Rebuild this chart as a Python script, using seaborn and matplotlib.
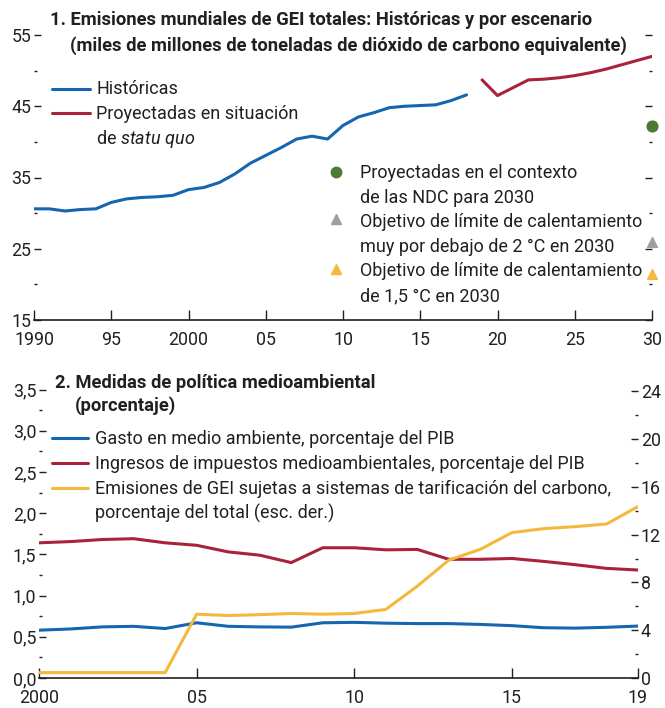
import numpy as np
import pandas as pd
import matplotlib
matplotlib.use('Agg')
import matplotlib.pyplot as plt
import seaborn as sns
from matplotlib.lines import Line2D
from matplotlib.ticker import FixedLocator

# Panel 1: emisiones mundiales de GEI (miles de millones de t CO2e)
anios_hist = list(range(1990, 2019))
emis_hist = [30.6, 30.6, 30.3, 30.5, 30.6, 31.5, 32.0, 32.2, 32.3, 32.5,
             33.3, 33.6, 34.3, 35.5, 37.0, 38.1, 39.2, 40.4, 40.8, 40.4,
             42.3, 43.5, 44.1, 44.8, 45.0, 45.1, 45.2, 45.8, 46.6]
anios_proy = list(range(2019, 2031))
emis_proy = [48.7, 46.5, 47.6, 48.7, 48.8, 49.0, 49.3, 49.7, 50.2, 50.8, 51.4, 52.0]
ndc_2030 = 42.2
obj_2c = 26.0
obj_15c = 21.5

# Panel 2: medidas de política medioambiental
anios2 = list(range(2000, 2020))
gasto = [0.58, 0.595, 0.62, 0.627, 0.60, 0.67, 0.627, 0.62, 0.617, 0.67,
         0.675, 0.665, 0.66, 0.66, 0.65, 0.635, 0.61, 0.605, 0.615, 0.63]
impuestos = [1.64, 1.655, 1.68, 1.69, 1.64, 1.61, 1.53, 1.49, 1.40, 1.58,
             1.58, 1.555, 1.56, 1.44, 1.44, 1.45, 1.415, 1.375, 1.33, 1.31]
tarif = [0.45, 0.45, 0.45, 0.45, 0.45, 5.34, 5.23, 5.30, 5.40, 5.34,
         5.40, 5.74, 7.69, 9.87, 10.77, 12.17, 12.50, 12.67, 12.89, 14.35]

AZUL = '#1565b0'
ROJO = '#a8233a'
AMAR = '#f4b93c'
VERDE = '#4b7a34'
GRIS = '#9e9e9e'
TXT = '#231f20'

sns.set_style('ticks')
plt.rcParams['font.family'] = ['Roboto', 'DejaVu Sans']
plt.rcParams['mathtext.fontset'] = 'custom'
plt.rcParams['mathtext.rm'] = 'Roboto'
plt.rcParams['mathtext.it'] = 'Roboto:italic'
plt.rcParams['text.color'] = TXT
plt.rcParams['axes.edgecolor'] = TXT
plt.rcParams['xtick.color'] = TXT
plt.rcParams['ytick.color'] = TXT

fs_tit = 13.2
fs_leg = 13.0
fst = 12.8
W, H = 665, 708
fig = plt.figure(figsize=(6.65, 7.08), dpi=100)
ax1 = fig.add_axes([34/W, 1-320/H, (652-34)/W, (320-35)/H])
ax2 = fig.add_axes([39/W, 1-678/H, (638-39)/W, (678-389.5)/H])


def px(x, y):
    return x / W, 1 - y / H


def texto(x, y, s, **kw):
    fig.text(*px(x, y), s, va='center', ha='left', **kw)


def linea_ley(x0, x1, y, color):
    (a, b), (c, _) = px(x0, y), px(x1, y)
    fig.add_artist(Line2D([a, c], [b, b], color=color, lw=2.2, transform=fig.transFigure))


def marca_ley(x, y, marker, color, ms):
    a, b = px(x, y)
    fig.add_artist(Line2D([a], [b], ls='', marker=marker, ms=ms, color=color,
                          transform=fig.transFigure))


def estilo(ax):
    for s in ['top', 'left', 'right']:
        ax.spines[s].set_visible(False)
    ax.spines['bottom'].set_linewidth(1.2)
    ax.tick_params(axis='x', direction='in', length=7, width=1, pad=8, labelsize=fst)
    ax.tick_params(axis='y', which='major', direction='in', length=5, width=1, pad=2, labelsize=fst)
    ax.tick_params(axis='y', which='minor', direction='in', length=2, width=1)
    ax.patch.set_alpha(0)


# ---- Panel 1 ----
df_h = pd.DataFrame({'anio': anios_hist, 'valor': emis_hist})
df_p = pd.DataFrame({'anio': anios_proy, 'valor': emis_proy})
sns.lineplot(data=df_h, x='anio', y='valor', ax=ax1, color=AZUL, lw=2.2)
sns.lineplot(data=df_p, x='anio', y='valor', ax=ax1, color=ROJO, lw=2.2)
ax1.scatter([2030], [ndc_2030], s=60, marker='o', color=VERDE, zorder=5, clip_on=False)
ax1.scatter([2030], [obj_2c], s=50, marker='^', color=GRIS, zorder=5, clip_on=False)
ax1.scatter([2030], [obj_15c], s=50, marker='^', color=AMAR, zorder=5, clip_on=False)
ax1.set_xlim(1990, 2030)
ax1.set_ylim(15, 55)
estilo(ax1)
ax1.set_xticks(range(1990, 2031, 5))
ax1.set_xticklabels(['1990', '95', '2000', '05', '10', '15', '20', '25', '30'])
ax1.set_yticks([15, 25, 35, 45, 55])
ax1.set_yticklabels(['15', '25', '35', '45', '55'])
ax1.yaxis.set_minor_locator(FixedLocator([20, 30, 40, 50]))
ax1.tick_params(axis='y', which='both', right=True, labelright=False)
ax1.set_xlabel('')
ax1.set_ylabel('')

texto(50, 20, '1. Emisiones mundiales de GEI totales: Históricas y por escenario',
      fontsize=fs_tit, fontweight='bold')
texto(70, 46, '(miles de millones de toneladas de dióxido de carbono equivalente)',
      fontsize=fs_tit, fontweight='bold')

# leyenda de lineas
linea_ley(52, 90, 89, AZUL)
texto(96, 89, 'Históricas', fontsize=fs_leg)
linea_ley(52, 90, 113, ROJO)
texto(96, 114, 'Proyectadas en situación', fontsize=fs_leg)
texto(96, 139, 'de $\\it{statu\\ quo}$', fontsize=fs_leg)

# leyenda de marcadores
marca_ley(336, 172, 'o', VERDE, 7.5)
texto(360, 173, 'Proyectadas en el contexto', fontsize=fs_leg)
texto(360, 198, 'de las NDC para 2030', fontsize=fs_leg)
marca_ley(336, 219, '^', GRIS, 7)
texto(360, 222, 'Objetivo de límite de calentamiento', fontsize=fs_leg)
texto(360, 247, 'muy por debajo de 2 °C en 2030', fontsize=fs_leg)
marca_ley(336, 269, '^', AMAR, 7)
texto(360, 271, 'Objetivo de límite de calentamiento', fontsize=fs_leg)
texto(360, 296, 'de 1,5 °C en 2030', fontsize=fs_leg)

# ---- Panel 2 ----
df2 = pd.DataFrame({'anio': anios2, 'gasto': gasto, 'impuestos': impuestos, 'tarif': tarif})
sns.lineplot(data=df2, x='anio', y='gasto', ax=ax2, color=AZUL, lw=2.2)
sns.lineplot(data=df2, x='anio', y='impuestos', ax=ax2, color=ROJO, lw=2.2)
ax2b = ax2.twinx()
sns.lineplot(data=df2, x='anio', y='tarif', ax=ax2b, color=AMAR, lw=2.2)
ax2.set_xlim(2000, 2019)
ax2.set_ylim(0, 3.5)
ax2b.set_ylim(0, 24.15)
estilo(ax2)
ax2.set_xticks([2000, 2005, 2010, 2015, 2019])
ax2.set_xticklabels(['2000', '05', '10', '15', '19'])
ax2.set_yticks(np.arange(0, 3.51, 0.5))
ax2.set_yticklabels([f'{v:.1f}'.replace('.', ',') for v in np.arange(0, 3.51, 0.5)])
ax2.yaxis.set_minor_locator(FixedLocator(np.arange(0.25, 3.5, 0.5)))
ax2.set_xlabel('')
ax2.set_ylabel('')
for s in ['top', 'left', 'right', 'bottom']:
    ax2b.spines[s].set_visible(False)
ax2b.set_yticks(range(0, 25, 4))
ax2b.yaxis.set_minor_locator(FixedLocator(range(2, 24, 4)))
ax2b.tick_params(axis='y', which='major', direction='in', length=5, width=1, pad=2, labelsize=fst)
ax2b.tick_params(axis='y', which='minor', direction='in', length=2, width=1)
ax2b.set_ylabel('')

texto(55, 383, '2. Medidas de política medioambiental', fontsize=fs_tit, fontweight='bold')
texto(75, 406, '(porcentaje)', fontsize=fs_tit, fontweight='bold')

linea_ley(52, 88, 438, AZUL)
texto(95, 439, 'Gasto en medio ambiente, porcentaje del PIB', fontsize=fs_leg)
linea_ley(52, 88, 463, ROJO)
texto(95, 464, 'Ingresos de impuestos medioambientales, porcentaje del PIB', fontsize=fs_leg)
linea_ley(52, 88, 488, AMAR)
texto(95, 489, 'Emisiones de GEI sujetas a sistemas de tarificación del carbono,', fontsize=fs_leg)
texto(95, 513, 'porcentaje del total (esc. der.)', fontsize=fs_leg)

fig.savefig('out.png', dpi=100)
